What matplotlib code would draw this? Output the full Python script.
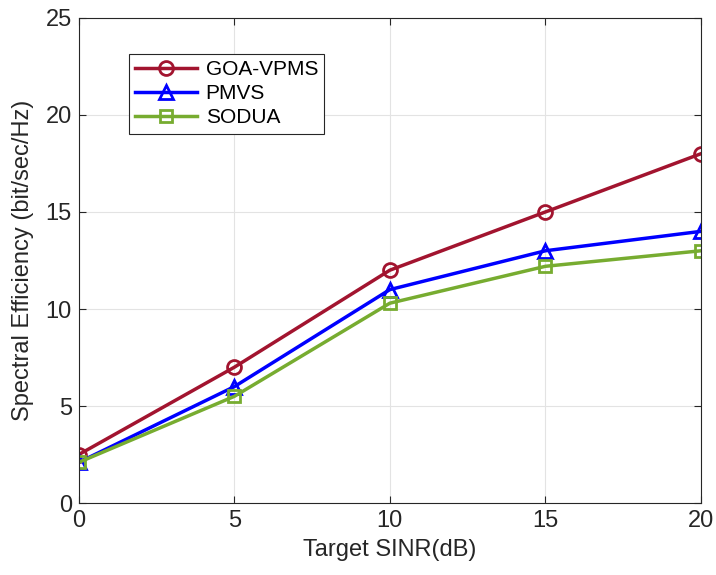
import matplotlib.pyplot as plt

sinr = [0, 5, 10, 15, 20]
goa_vpms = [2.5, 7.0, 12.0, 15.0, 18.0]
pmvs = [2.1, 6.0, 11.0, 13.0, 14.0]
sodua = [2.1, 5.5, 10.3, 12.2, 13.0]

plt.rcParams['font.family'] = ['Liberation Sans', 'DejaVu Sans']

fig = plt.figure(figsize=(7.16, 5.75), dpi=100)
ax = fig.add_axes([0.110, 0.125, 0.869, 0.844])

ax.plot(sinr, goa_vpms, color='#A2142F', lw=2.5, marker='o', ms=10,
        mfc='none', mew=2, label='GOA-VPMS')
ax.plot(sinr, pmvs, color='#0000FF', lw=2.5, marker='^', ms=10,
        mfc='none', mew=2, label='PMVS')
ax.plot(sinr, sodua, color='#77AC30', lw=2.5, marker='s', ms=8,
        mfc='none', mew=2, label='SODUA')

ax.set_xlim(0, 20)
ax.set_ylim(0, 25)
ax.set_xticks(sinr)
ax.set_yticks([0, 5, 10, 15, 20, 25])
ax.grid(True, color='#e3e3e3', lw=0.8)
ax.tick_params(direction='in', top=True, right=True, labelsize=17,
               colors='#262626', length=5, pad=5)
for s in ax.spines.values():
    s.set_color('#262626')
    s.set_linewidth(0.8)

ax.set_xlabel('Target SINR(dB)', fontsize=17, color='#262626', labelpad=5)
ax.set_ylabel('Spectral Efficiency (bit/sec/Hz)', fontsize=17, color='#262626',
              labelpad=8)

leg = ax.legend(loc='upper left', bbox_to_anchor=(0.080, 0.926), fontsize=15,
                fancybox=False, edgecolor='#262626', framealpha=1,
                handlelength=3.0, handletextpad=0.4, borderpad=0.3,
                labelspacing=0.25, borderaxespad=0)
leg.get_frame().set_linewidth(0.8)

fig.savefig('out.png', dpi=100)
